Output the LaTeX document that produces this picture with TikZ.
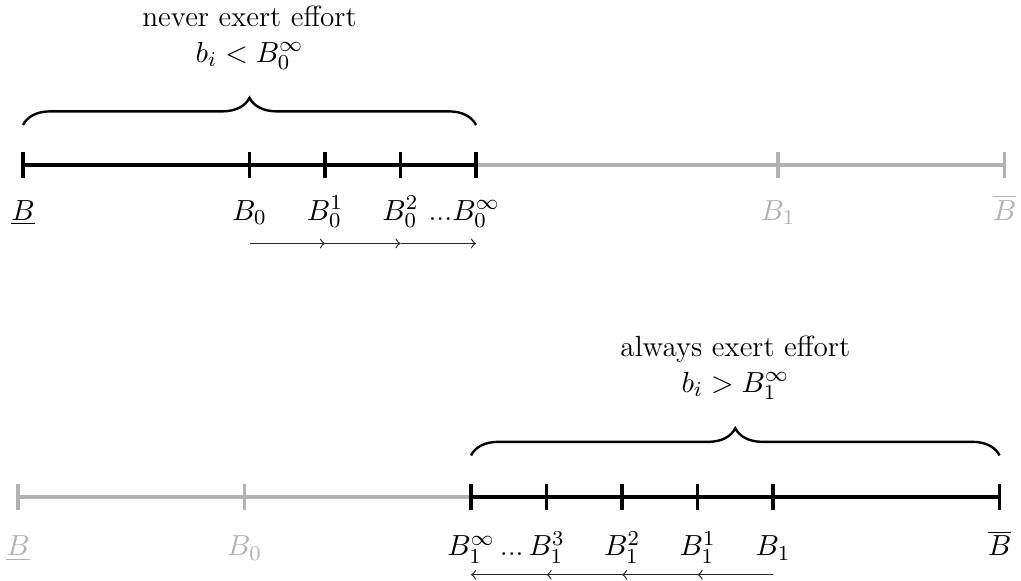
\documentclass[tikz,border=0pt]{standalone}
\usetikzlibrary{decorations.pathreplacing}
\definecolor{lightg}{gray}{0.70}
\tikzset{
  axis/.style={line width=1.35pt},
  blk/.style={axis,black},
  gry/.style={axis,lightg},
  tick/.style={line width=1.25pt},
  lbl/.style={anchor=base,inner sep=0pt},
  glbl/.style={lbl,text=lightg},
  flow/.style={->,line width=0.45pt,black!85},
  brc/.style={decorate,decoration={brace,amplitude=0.36cm},line width=0.9pt},
  btxt/.style={anchor=base,inner sep=0pt,align=center}
}
\begin{document}
\begin{tikzpicture}[font=\fontsize{11}{13.6}\selectfont]
\useasboundingbox (-0.305,-5.510) rectangle (13.218,2.185);
% ---------- top line ----------
\foreach \u in {0,3,4,5,6,10,13}{\coordinate (t\u) at (\u,0);}
\draw[gry] (t6) -- (t13);
\draw[blk] (t0) -- (t6);
\foreach \u in {10,13}{\draw[tick,lightg] ([yshift=-0.17cm]t\u) -- ([yshift=0.17cm]t\u);}
\foreach \u in {0,3,4,5,6}{\draw[tick,black] ([yshift=-0.17cm]t\u) -- ([yshift=0.17cm]t\u);}
\node[lbl] (lt0) at (0,-0.73) {$\underline{B}$};
\node[lbl] (lt3) at (3,-0.73) {$B_0$};
\node[lbl] (lt4) at (4,-0.73) {$B_0^1$};
\node[lbl] (lt5) at (5,-0.73) {$B_0^2$};
\node[lbl] (lt6) at (6,-0.73) {\llap{...}$B_0^\infty$};
\node[glbl] (lt10) at (10,-0.73) {$B_1$};
\node[glbl] (lt13) at (13,-0.73) {$\overline{B}$};
% arrows
\foreach \u in {3,4,5,6}{\coordinate (at\u) at (\u,-1.04);}
\draw[flow] (at3) -- (at4);
\draw[flow] (at4) -- (at5);
\draw[flow] (at5) -- (at6);
% brace
\coordinate (bt0) at (0,0.53);
\coordinate (bt6) at (6,0.53);
\draw[brc] (bt0) -- (bt6);
\node[btxt] (nt1) at (3,1.83) {never exert effort};
\node[btxt] (nt2) at (3,1.36) {$b_i < B_0^\infty$};
% ---------- bottom line ----------
\begin{scope}[shift={(-0.066,-4.397)}]
\foreach \u in {0,3,6,7,8,9,10,13}{\coordinate (b\u) at (\u,0);}
\draw[gry] (b0) -- (b6);
\draw[blk] (b6) -- (b13);
\foreach \u in {0,3}{\draw[tick,lightg] ([yshift=-0.17cm]b\u) -- ([yshift=0.17cm]b\u);}
\foreach \u in {6,7,8,9,10,13}{\draw[tick,black] ([yshift=-0.17cm]b\u) -- ([yshift=0.17cm]b\u);}
\node[glbl] (lb0) at (0,-0.78) {$\underline{B}$};
\node[glbl] (lb3) at (3,-0.78) {$B_0$};
\node[lbl] (lb6) at (6,-0.78) {$B_1^\infty$};
\node[lbl] (lb7) at (7,-0.78) {\llap{...\,}$B_1^3$};
\node[lbl] (lb8) at (8,-0.78) {$B_1^2$};
\node[lbl] (lb9) at (9,-0.78) {$B_1^1$};
\node[lbl] (lb10) at (10,-0.78) {$B_1$};
\node[lbl] (lb13) at (13,-0.78) {$\overline{B}$};
\foreach \u in {6,7,8,9,10}{\coordinate (ab\u) at (\u,-1.03);}
\draw[flow] (ab10) -- (ab9);
\draw[flow] (ab9) -- (ab8);
\draw[flow] (ab8) -- (ab7);
\draw[flow] (ab7) -- (ab6);
\coordinate (bb6) at (6,0.55);
\coordinate (bb13) at (13,0.55);
\draw[brc] (bb6) -- (bb13);
\node[btxt] (nb1) at (9.5,1.86) {always exert effort};
\node[btxt] (nb2) at (9.5,1.39) {$b_i > B_1^\infty$};
\end{scope}
\end{tikzpicture}
\end{document}
